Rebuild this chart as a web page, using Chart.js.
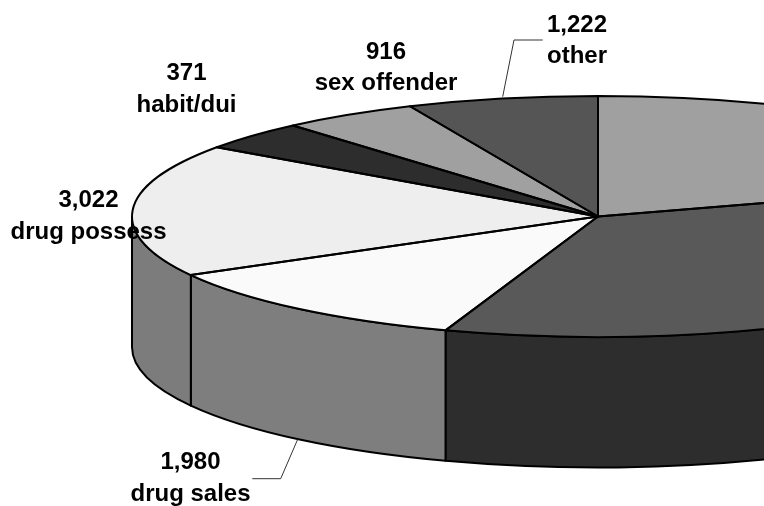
<!DOCTYPE html>
<html>
<head>
<meta charset="utf-8">
<style>
html,body{margin:0;padding:0;background:#fff;overflow:hidden}
canvas{display:block}
</style>
<script src="https://cdn.jsdelivr.net/npm/chart.js@4"></script>
</head>
<body>
<canvas id="c" width="764" height="506"></canvas>
<script>
// Clockwise from 12 o'clock. The first two slices run off the picture, so their names are unreadable.
const categories = ['', '', 'drug sales', 'drug possess', 'habit/dui', 'sex offender', 'other'];
// Slice sizes (the reference's 3-D projection distorts them a little).
const sliceValues = [3630, 6325, 2090, 3210, 700, 855, 1190];
const printedCounts = ['', '', '1,980', '3,022', '371', '916', '1,222'];
const topColors = ['#a0a0a0', '#595959', '#fafafa', '#eeeeee', '#2d2d2d', '#a0a0a0', '#555555'];
const sideColors = ['#7c7c7c', '#2d2d2d', '#7e7e7e', '#7c7c7c', '#2d2d2d', '#7c7c7c', '#2d2d2d'];

// Drawing geometry of the tilted disc
const disc = { cx: 598, cy: 216.5, rx: 466, ry: 120.5, depth: 130.5 };
const squash = disc.ry / disc.rx;

// Label anchors: [centre x, first baseline, second baseline]
const labelSpots = {
  'drug sales': [190.5, 469, 500.5],
  'drug possess': [88.5, 206.5, 238.5],
  'habit/dui': [186.5, 80, 111.5],
  'sex offender': [386, 58.5, 90],
  'other': [577, 31.5, 62.5]
};
const leaders = [
  [[502.7, 96.7], [514, 40], [542.7, 40]],
  [[297.7, 439.3], [280.7, 478.7], [252.3, 478.7]]
];

function applyDisc(ctx, arc) {
  ctx.transform(1, 0, 0, squash, disc.cx - arc.x, disc.cy - arc.y * squash);
}

const tiltedPie = {
  id: 'tiltedPie',
  beforeDatasetsDraw(chart) {
    const ctx = chart.ctx;
    const arcs = chart.getDatasetMeta(0).data;
    ctx.save();
    ctx.lineWidth = 2;
    ctx.strokeStyle = '#000';
    ctx.lineJoin = 'round';
    arcs.forEach((arc, i) => {
      const a = Math.max(arc.startAngle, 0);
      const b = Math.min(arc.endAngle, Math.PI);
      if (b <= a) return;
      ctx.beginPath();
      ctx.ellipse(disc.cx, disc.cy, disc.rx, disc.ry, 0, a, b);
      ctx.ellipse(disc.cx, disc.cy + disc.depth, disc.rx, disc.ry, 0, b, a, true);
      ctx.closePath();
      ctx.fillStyle = sideColors[i];
      ctx.fill();
      ctx.stroke();
    });
    ctx.restore();
    ctx.save();
    applyDisc(ctx, arcs[0]);
  },
  afterDatasetsDraw(chart) {
    const ctx = chart.ctx;
    ctx.restore();
    const arcs = chart.getDatasetMeta(0).data;
    ctx.save();
    ctx.lineWidth = 2;
    ctx.strokeStyle = '#000';
    ctx.lineJoin = 'round';
    arcs.forEach(arc => {
      ctx.save();
      applyDisc(ctx, arc);
      ctx.beginPath();
      ctx.moveTo(arc.x, arc.y);
      ctx.arc(arc.x, arc.y, arc.outerRadius, arc.startAngle, arc.endAngle);
      ctx.closePath();
      ctx.restore();
      ctx.stroke();
    });
    ctx.lineWidth = 1;
    ctx.strokeStyle = '#333';
    leaders.forEach(pts => {
      ctx.beginPath();
      pts.forEach((p, i) => i ? ctx.lineTo(p[0], p[1]) : ctx.moveTo(p[0], p[1]));
      ctx.stroke();
    });
    ctx.fillStyle = '#000';
    ctx.font = 'bold 24px "Liberation Sans", Arial, sans-serif';
    ctx.textAlign = 'center';
    ctx.textBaseline = 'alphabetic';
    categories.forEach((name, i) => {
      const spot = labelSpots[name];
      if (!spot) return;
      ctx.fillText(printedCounts[i], spot[0], spot[1]);
      ctx.fillText(name, spot[0], spot[2]);
    });
    ctx.restore();
  }
};

new Chart(document.getElementById('c'), {
  type: 'pie',
  data: {
    labels: categories,
    datasets: [{
      data: sliceValues,
      backgroundColor: topColors,
      borderWidth: 0,
      clip: false
    }]
  },
  options: {
    responsive: false,
    animation: false,
    radius: disc.rx,
    plugins: { legend: { display: false }, tooltip: { enabled: false } }
  },
  plugins: [tiltedPie]
});
</script>
</body>
</html>
